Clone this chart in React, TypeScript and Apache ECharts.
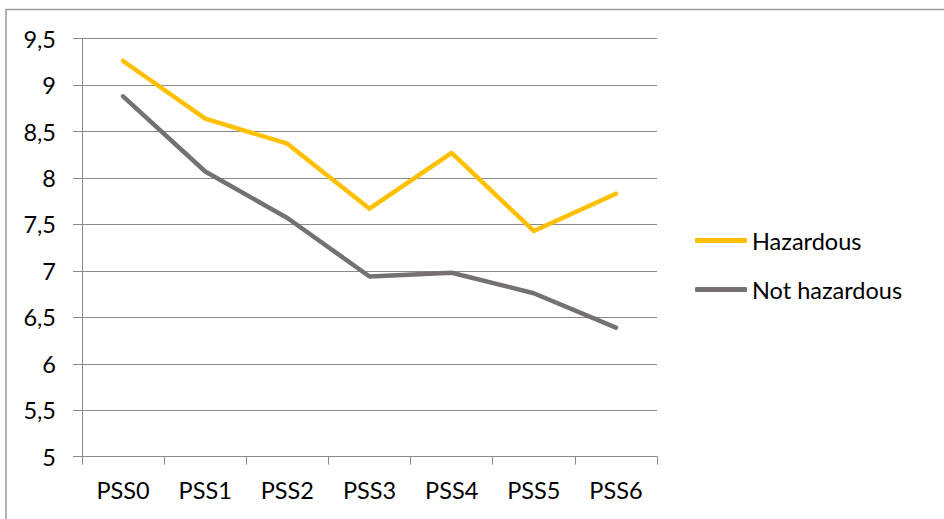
import React, { useEffect, useRef } from "react";
import * as echarts from "echarts";

const categories = ["PSS0", "PSS1", "PSS2", "PSS3", "PSS4", "PSS5", "PSS6"];
const hazardous = [9.26, 8.64, 8.37, 7.67, 8.27, 7.43, 7.83];
const notHazardous = [8.88, 8.07, 7.57, 6.94, 6.98, 6.76, 6.39];
const yMin = 5;
const yMax = 9.5;
const yStep = 0.5;

const FONT = "Lato, 'Open Sans', sans-serif";
const GRID_GRAY = "#8a8a8a";
const FONT_SIZE = 23.5;

export default function App() {
  const ref = useRef<HTMLDivElement>(null);

  useEffect(() => {
    document.body.style.margin = "0";
    if (!ref.current) return;
    const chart = echarts.init(ref.current, undefined, { renderer: "svg" });
    chart.setOption({
      animation: false,
      backgroundColor: "#ffffff",
      textStyle: { fontFamily: FONT },
      graphic: [
        {
          type: "rect",
          shape: { x: 6, y: 9.5, width: 1200, height: 800 },
          style: { fill: "none", stroke: "#9a9a9a", lineWidth: 1.5 },
          silent: true,
        },
      ],
      grid: { left: 82, top: 38.7, right: 287, bottom: 62.3 },
      legend: {
        orient: "vertical",
        left: 695,
        top: 227.5,
        padding: 0,
        icon: "roundRect",
        itemWidth: 52,
        itemHeight: 5,
        itemGap: 23,
        textStyle: { fontFamily: FONT, fontSize: FONT_SIZE, color: "#000", lineHeight: 26 },
        data: ["Hazardous", "Not hazardous"],
      },
      xAxis: {
        type: "category",
        data: categories,
        boundaryGap: true,
        axisLine: { show: true, lineStyle: { color: GRID_GRAY, width: 1 } },
        axisTick: { show: true, length: 8, lineStyle: { color: GRID_GRAY, width: 1 } },
        axisLabel: { color: "#000", fontFamily: FONT, fontSize: FONT_SIZE, margin: 21 },
      },
      yAxis: {
        type: "value",
        min: yMin,
        max: yMax,
        interval: yStep,
        axisLine: { show: true, lineStyle: { color: GRID_GRAY, width: 1 } },
        axisTick: { show: true, length: 9, lineStyle: { color: GRID_GRAY, width: 1 } },
        axisLabel: {
          color: "#000",
          fontFamily: FONT,
          fontSize: FONT_SIZE,
          margin: 26,
          formatter: (v: number) => String(v).replace(".", ","),
        },
        splitLine: { show: true, lineStyle: { color: GRID_GRAY, width: 1 } },
      },
      series: [
        {
          name: "Hazardous",
          type: "line",
          data: hazardous,
          symbol: "none",
          color: "#FFC000",
          lineStyle: { color: "#FFC000", width: 4.5, cap: "round", join: "round" },
        },
        {
          name: "Not hazardous",
          type: "line",
          data: notHazardous,
          symbol: "none",
          color: "#767171",
          lineStyle: { color: "#767171", width: 4.5, cap: "round", join: "round" },
        },
      ],
    });
    return () => chart.dispose();
  }, []);

  return <div ref={ref} style={{ width: 944, height: 519 }} />;
}
